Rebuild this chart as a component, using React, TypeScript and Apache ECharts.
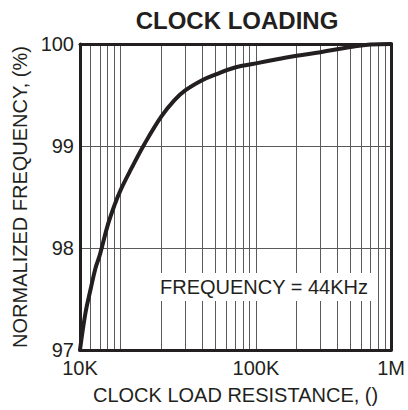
import React, { useEffect, useRef } from "react";
import * as echarts from "echarts";

// Curve: clock load resistance (ohms) vs normalized frequency (%)
const resistance = [5000, 5500, 6000, 6500, 7000, 8000, 9000, 10000, 12000, 15000, 20000, 25000, 30000, 40000, 50000, 70000, 100000, 150000, 200000, 300000, 500000, 700000, 1000000];
const frequency = [97.0, 97.37, 97.6, 97.8, 97.93, 98.22, 98.42, 98.57, 98.78, 99.02, 99.29, 99.45, 99.545, 99.645, 99.7, 99.77, 99.81, 99.855, 99.885, 99.92, 99.97, 99.995, 100.0];

// Grid lines
const xGridValues = [6000, 7000, 8000, 9000, 10000, 20000, 30000, 40000, 50000, 60000, 70000, 80000, 90000, 100000, 200000, 300000, 400000, 500000, 600000, 700000, 800000, 900000];
const yGridValues = [98, 99];

// Tick labels
const xTickValues = [5000, 100000, 1000000];
const xTickLabels = ["10K", "100K", "1M"];
const yTicks = [97, 98, 99, 100];

const FONT = '"Liberation Sans", Arial, Helvetica, sans-serif';
const INK = "#231f20";

export default function App() {
  const ref = useRef<HTMLDivElement>(null);
  useEffect(() => {
    if (!ref.current) return;
    const chart = echarts.init(ref.current, undefined, { renderer: "svg" });
    const axisLine = { show: true, onZero: false, lineStyle: { color: INK, width: 3 } };
    chart.setOption({
      animation: false,
      backgroundColor: "#fff",
      grid: { left: 80, right: 14, top: 44, bottom: 53 },
      xAxis: [
        {
          type: "log",
          logBase: 10,
          min: 5000,
          max: 1000000,
          position: "bottom",
          z: 10,
          axisLine,
          axisTick: { show: false },
          splitLine: { show: false },
          axisLabel: {
            show: true,
            showMinLabel: true,
            showMaxLabel: true,
            fontFamily: FONT,
            fontSize: 20,
            color: INK,
            margin: 8,
            formatter: (v: number) => {
              const i = xTickValues.findIndex((t) => Math.abs(Math.log10(v) - Math.log10(t)) < 0.01);
              return i >= 0 ? xTickLabels[i] : "";
            },
          },
          name: "CLOCK LOAD RESISTANCE, ()",
          nameLocation: "middle",
          nameGap: 35,
          nameTextStyle: { fontFamily: FONT, fontSize: 20, color: INK },
        },
        {
          type: "log",
          logBase: 10,
          min: 5000,
          max: 1000000,
          position: "top",
          z: 10,
          axisLine,
          axisTick: { show: false },
          axisLabel: { show: false },
          splitLine: { show: false },
        },
      ],
      yAxis: [
        {
          type: "value",
          min: yTicks[0],
          max: yTicks[yTicks.length - 1],
          interval: 1,
          position: "left",
          z: 10,
          axisLine,
          axisTick: { show: false },
          splitLine: { show: false },
          axisLabel: { fontFamily: FONT, fontSize: 20, color: INK, margin: 6 },
          name: "NORMALIZED FREQUENCY, (%)",
          nameLocation: "middle",
          nameGap: 50,
          nameTextStyle: { fontFamily: FONT, fontSize: 20, color: INK },
        },
        {
          type: "value",
          min: yTicks[0],
          max: yTicks[yTicks.length - 1],
          interval: 1,
          position: "right",
          z: 10,
          axisLine,
          axisTick: { show: false },
          axisLabel: { show: false },
          splitLine: { show: false },
        },
      ],
      series: [
        {
          type: "line",
          data: [],
          silent: true,
          z: 1,
          markLine: {
            silent: true,
            symbol: "none",
            label: { show: false },
            lineStyle: { color: "#5a5a5a", width: 1, type: "solid" },
            data: [
              ...xGridValues.map((v) => ({ xAxis: v })),
              ...yGridValues.map((v) => ({ yAxis: v })),
            ],
          },
        },
        {
          type: "line",
          z: 5,
          data: resistance.map((r, i) => [r, frequency[i]]),
          smooth: 0.4,
          symbol: "none",
          lineStyle: { color: INK, width: 4, join: "round", cap: "round" },
        },
      ],
      graphic: [
        {
          type: "text",
          x: 237,
          y: 20,
          z: 100,
          style: {
            text: "CLOCK LOADING",
            font: `bold 24px ${FONT}`,
            fill: INK,
            align: "center",
            verticalAlign: "middle",
          },
        },
        {
          type: "text",
          x: 264,
          y: 287,
          z: 100,
          style: {
            text: "FREQUENCY = 44KHz",
            font: `20px ${FONT}`,
            fill: INK,
            align: "center",
            verticalAlign: "middle",
            backgroundColor: "#fff",
            padding: [4, 5],
          },
        },
      ],
    });
    return () => chart.dispose();
  }, []);
  return (
    <div
      ref={ref}
      style={{ position: "fixed", left: 0, top: 0, width: 408, height: 410, background: "#fff" }}
    />
  );
}
